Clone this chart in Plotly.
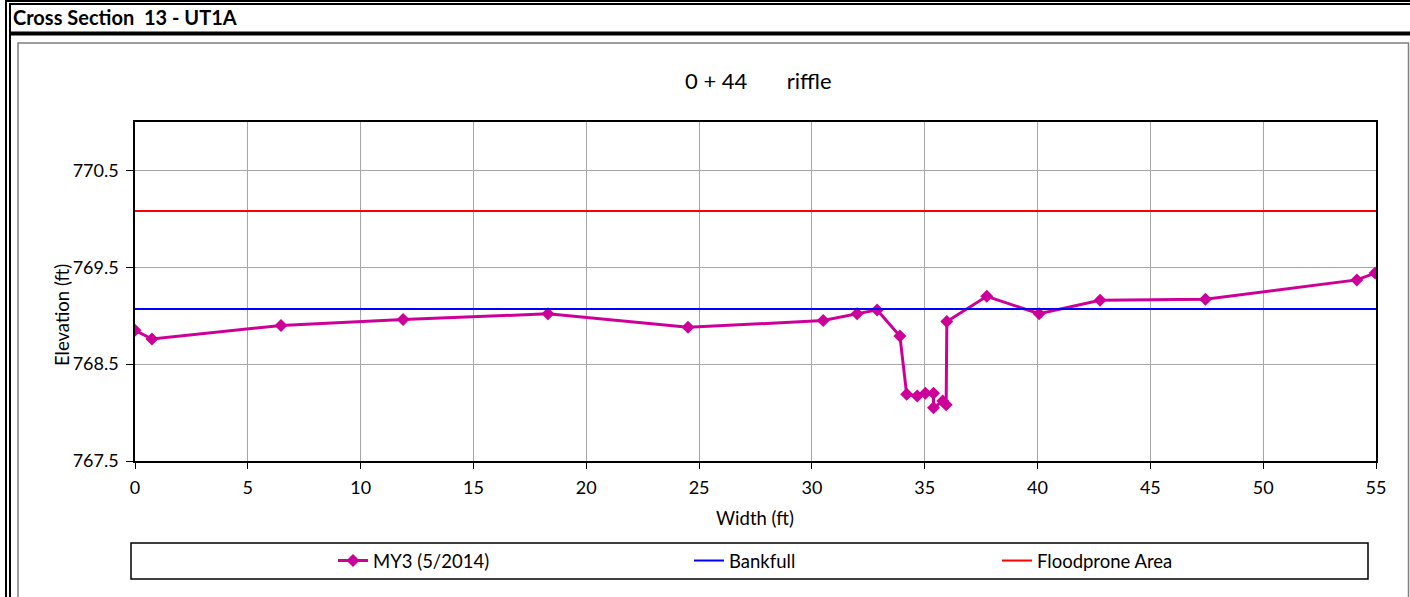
import plotly.graph_objects as go

# Survey of cross section 13 (UT1A), station 0+44 riffle, MY3 (5/2014)
station_ft = [0.0, 0.75, 6.47, 11.88, 18.3, 24.51, 30.5, 32.0, 32.89, 33.9,
              34.2, 34.67, 35.03, 35.39, 35.39, 35.8, 35.95, 35.98, 37.75,
              40.07, 42.77, 47.44, 54.15, 54.96]
elevation_ft = [768.85, 768.76, 768.90, 768.96, 769.02, 768.88, 768.95, 769.02,
                769.06, 768.79, 768.19, 768.17, 768.20, 768.20, 768.05, 768.12,
                768.08, 768.94, 769.20, 769.02, 769.16, 769.17, 769.37, 769.44]

bankfull_elev = 769.07
floodprone_elev = 770.08
reference_span = [0, 55]

x_ticks = [0, 5, 10, 15, 20, 25, 30, 35, 40, 45, 50, 55]
y_ticks = [767.5, 768.5, 769.5, 770.5]

W, H = 1410, 597
PL, PR, PT, PB = 135, 1376, 122, 461  # plot area in page pixels
FONT = "Lato, Carlito, Calibri, sans-serif"


def px(x):
    return (x - PL) / (PR - PL)


def py(y):
    return (PB - y) / (PB - PT)


fig = go.Figure()

fig.add_trace(go.Scatter(
    x=station_ft, y=elevation_ft, mode="lines+markers", name="MY3 (5/2014)",
    line=dict(color="#CC0099", width=3),
    marker=dict(symbol="diamond", size=10, color="#CC0099"),
    legend="legend",
))
fig.add_trace(go.Scatter(
    x=reference_span, y=[bankfull_elev, bankfull_elev], mode="lines",
    name="Bankfull", line=dict(color="#0000FF", width=2), legend="legend2",
))
fig.add_trace(go.Scatter(
    x=reference_span, y=[floodprone_elev, floodprone_elev], mode="lines",
    name="Floodprone Area", line=dict(color="#FF0000", width=2), legend="legend3",
))

shapes = []
# outer double frame of the sheet
shapes.append(dict(type="rect", xref="paper", yref="paper",
                   x0=px(6), x1=px(1420), y0=py(1), y1=py(610),
                   line=dict(color="black", width=2)))
shapes.append(dict(type="rect", xref="paper", yref="paper",
                   x0=px(10), x1=px(1420), y0=py(4), y1=py(610),
                   line=dict(color="black", width=2)))
# heavy rule under the heading
shapes.append(dict(type="line", xref="paper", yref="paper",
                   x0=px(10), x1=px(1420), y0=py(33.5), y1=py(33.5),
                   line=dict(color="black", width=4)))
# chart frame
shapes.append(dict(type="rect", xref="paper", yref="paper",
                   x0=px(18), x1=px(1408.5), y0=py(43), y1=py(610),
                   line=dict(color="#7f7f7f", width=1.5)))
# legend box
shapes.append(dict(type="rect", xref="paper", yref="paper",
                   x0=px(131), x1=px(1368), y0=py(543), y1=py(579),
                   line=dict(color="black", width=1.5)))

annotations = [
    dict(text="<b>Cross Section  13 - UT1A</b>", xref="paper", yref="paper",
         x=px(11), y=py(17), xanchor="left", yanchor="middle", showarrow=False,
         font=dict(family=FONT, size=20, color="black")),
    dict(text="0 + 44\u00a0\u00a0\u00a0\u00a0\u00a0\u00a0\u00a0riffle",
         xref="paper", yref="paper", x=px(758), y=py(81),
         xanchor="center", yanchor="middle", showarrow=False,
         font=dict(family=FONT, size=22, color="black")),
    dict(text="Width (ft)", xref="paper", yref="paper", x=px(755), y=py(518),
         xanchor="center", yanchor="middle", showarrow=False,
         font=dict(family=FONT, size=18.5, color="black")),
    dict(text="Elevation (ft)", xref="paper", yref="paper", x=px(62), y=py(315),
         xanchor="center", yanchor="middle", showarrow=False, textangle=-90,
         font=dict(family=FONT, size=18.5, color="black")),
]

legend_common = dict(orientation="h", yanchor="middle", xanchor="left",
                     bgcolor="rgba(0,0,0,0)", borderwidth=0,
                     font=dict(family=FONT, size=18.5, color="black"))

fig.update_layout(
    width=W, height=H, showlegend=True,
    margin=dict(l=PL, r=W - PR, t=PT, b=H - PB, pad=0),
    paper_bgcolor="white", plot_bgcolor="white",
    font=dict(family=FONT, size=18, color="black"),
    shapes=shapes, annotations=annotations,
    legend=dict(x=px(333), y=py(561), **legend_common),
    legend2=dict(x=px(689), y=py(561), **legend_common),
    legend3=dict(x=px(997), y=py(561), **legend_common),
    xaxis=dict(range=[0, 55], tickvals=x_ticks, ticks="outside", ticklen=6,
               tickcolor="black", showgrid=True, gridcolor="#a6a6a6",
               gridwidth=1, showline=True, linecolor="black", linewidth=1.5,
               mirror=True, zeroline=False, ticklabelstandoff=4,
               tickfont=dict(family=FONT, size=18, color="black")),
    yaxis=dict(range=[767.5, 771.0], tickvals=y_ticks,
               ticktext=[f"{v:.1f}" for v in y_ticks], ticks="outside",
               ticklen=7, tickcolor="black", showgrid=True,
               gridcolor="#a6a6a6", gridwidth=1, showline=True,
               linecolor="black", linewidth=1.5, mirror=True, zeroline=False,
               ticklabelstandoff=4,
               tickfont=dict(family=FONT, size=18, color="black")),
)

fig.write_html("out.html")
